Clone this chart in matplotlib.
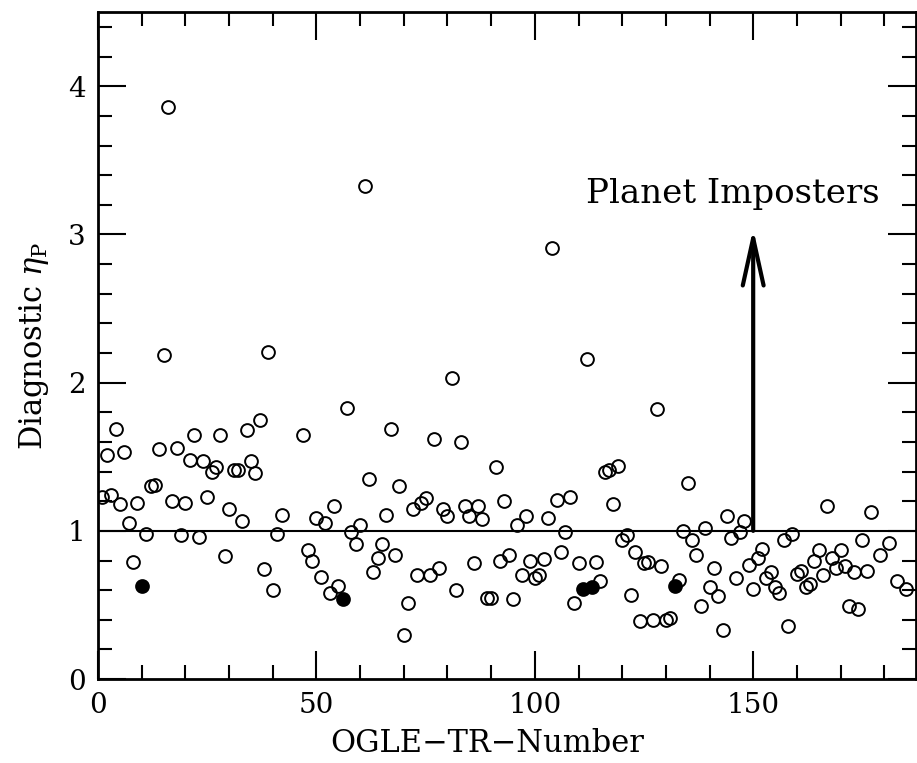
import numpy as np
import matplotlib.pyplot as plt
from matplotlib.ticker import MultipleLocator

# open circles: OGLE-TR number and diagnostic eta_P
tr_open = [1, 2, 3, 4, 5, 6, 7, 8, 9, 11, 12, 13, 14, 15, 16, 17, 18, 19, 20,
           21, 22, 23, 24, 25, 26, 27, 28, 29, 30, 31, 32, 33, 34, 35, 36, 37,
           38, 39, 40, 41, 42, 47, 48, 49, 50, 51, 52, 53, 54, 55, 57, 58, 59,
           60, 61, 62, 63, 64, 65, 66, 67, 68, 69, 70, 71, 72, 73, 74, 75, 76,
           77, 78, 79, 80, 81, 82, 83, 84, 85, 86, 87, 88, 89, 90, 91, 92, 93,
           94, 95, 96, 97, 98, 99, 100, 101, 102, 103, 104, 105, 106, 107, 108,
           109, 110, 112, 114, 115, 116, 117, 118, 119, 120, 121, 122, 123, 124,
           125, 126, 127, 128, 129, 130, 131, 133, 134, 135, 136, 137, 138, 139,
           140, 141, 142, 143, 144, 145, 146, 147, 148, 149, 150, 151, 152, 153,
           154, 155, 156, 157, 158, 159, 160, 161, 162, 163, 164, 165, 166, 167,
           168, 169, 170, 171, 172, 173, 174, 175, 176, 177, 179, 181, 183, 185]
eta_open = [1.23, 1.51, 1.24, 1.69, 1.18, 1.53, 1.05, 0.79, 1.19, 0.98, 1.30,
            1.31, 1.55, 2.19, 3.86, 1.20, 1.56, 0.97, 1.19, 1.48, 1.65, 0.96,
            1.47, 1.23, 1.40, 1.43, 1.65, 0.83, 1.15, 1.41, 1.41, 1.07, 1.68,
            1.47, 1.39, 1.75, 0.74, 2.21, 0.60, 0.98, 1.11, 1.65, 0.87, 0.80,
            1.09, 0.69, 1.05, 0.58, 1.17, 0.63, 1.83, 0.99, 0.91, 1.04, 3.33,
            1.35, 0.72, 0.82, 0.91, 1.11, 1.69, 0.84, 1.30, 0.30, 0.51, 1.15,
            0.70, 1.19, 1.22, 0.70, 1.62, 0.75, 1.15, 1.10, 2.03, 0.60, 1.60,
            1.17, 1.10, 0.78, 1.17, 1.08, 0.55, 0.55, 1.43, 0.80, 1.20, 0.84,
            0.54, 1.04, 0.70, 1.10, 0.80, 0.68, 0.70, 0.81, 1.09, 2.91, 1.21,
            0.86, 0.99, 1.23, 0.51, 0.78, 2.16, 0.79, 0.66, 1.40, 1.41, 1.18,
            1.44, 0.94, 0.97, 0.57, 0.86, 0.39, 0.78, 0.79, 0.40, 1.82, 0.76,
            0.40, 0.41, 0.67, 1.00, 1.32, 0.94, 0.84, 0.49, 1.02, 0.62, 0.75,
            0.56, 0.33, 1.10, 0.95, 0.68, 0.99, 1.07, 0.77, 0.61, 0.82, 0.88,
            0.68, 0.72, 0.62, 0.58, 0.94, 0.36, 0.98, 0.71, 0.73, 0.62, 0.64,
            0.80, 0.87, 0.70, 1.17, 0.82, 0.75, 0.87, 0.76, 0.49, 0.72, 0.47,
            0.94, 0.73, 1.13, 0.84, 0.92, 0.66, 0.61]

# filled circles
tr_filled = [10, 56, 111, 113, 132]
eta_filled = [0.63, 0.54, 0.61, 0.62, 0.63]

threshold = 1.0
arrow_x = 150
arrow_top = 3.0

plt.rcParams['font.family'] = 'DejaVu Serif'
plt.rcParams['mathtext.fontset'] = 'dejavuserif'

fig = plt.figure(figsize=(9.17, 7.63), dpi=100)
ax = fig.add_axes([0.107, 0.110, 0.892, 0.874])

ax.axhline(threshold, color='black', lw=1.5, zorder=1)
ax.plot(tr_open, eta_open, 'o', ms=9.2, mfc='none', mec='black', mew=1.4, zorder=3)
ax.plot(tr_filled, eta_filled, 'o', ms=9.2, mfc='black', mec='black', mew=1.4, zorder=3)

ax.annotate('', xy=(arrow_x, arrow_top + 0.04), xytext=(arrow_x, threshold),
            arrowprops=dict(arrowstyle='->,head_length=3.4,head_width=0.75',
                            lw=3, color='black', shrinkA=0, shrinkB=0,
                            mutation_scale=10))
ax.text(145.3, 3.27, 'Planet Imposters', fontsize=24.5, ha='center', va='center')

ax.set_xlim(0, 187.3)
ax.set_ylim(0, 4.5)
ax.xaxis.set_major_locator(MultipleLocator(50))
ax.xaxis.set_minor_locator(MultipleLocator(10))
ax.yaxis.set_major_locator(MultipleLocator(1))
ax.yaxis.set_minor_locator(MultipleLocator(0.2))
ax.tick_params(which='both', direction='in', top=True, right=True, labelsize=20,
               width=1.5)
ax.tick_params(which='major', length=20, pad=9)
ax.tick_params(which='minor', length=10)
for s in ax.spines.values():
    s.set_linewidth(2)

ax.set_xlabel('OGLE\u2212TR\u2212Number', fontsize=22)
ax.xaxis.set_label_coords(0.476, -0.073)
ax.set_ylabel(r'Diagnostic $\eta_{\rm P}$', fontsize=22, labelpad=12)

plt.savefig('out.png', dpi=100)
